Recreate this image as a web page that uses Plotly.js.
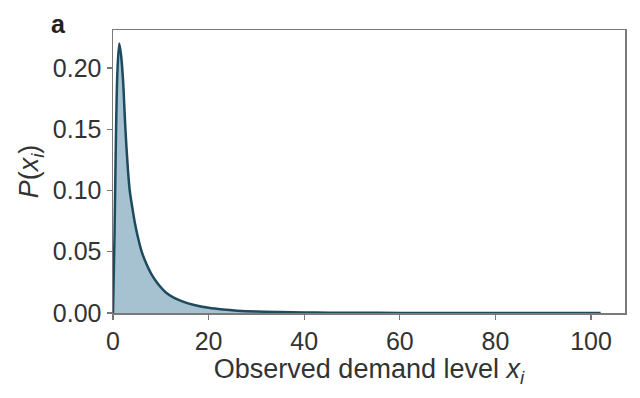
<!DOCTYPE html>
<html>
<head>
<meta charset="utf-8">
<script src="https://cdn.plot.ly/plotly-3.0.1.min.js"></script>
<style>html,body{margin:0;padding:0;background:#fff;}#chart{width:640px;height:398px;}</style>
</head>
<body>
<div id="chart"></div>
<script>
// Observed demand level (x) and probability P(x)
var demandLevel = [0, 0.3, 0.6, 0.9, 1.3, 1.7, 2.1, 2.6, 3.1, 3.5, 4.0, 4.6, 5.2, 6.0, 7.0, 8.0, 9.0, 10, 11, 12.5, 14.5, 17, 20, 23, 26, 30, 35, 40, 45, 50, 60, 70, 80, 90, 102];
var probability = [0, 0.06, 0.14, 0.195, 0.220, 0.210, 0.190, 0.150, 0.118, 0.100, 0.087, 0.073, 0.062, 0.050, 0.040, 0.032, 0.026, 0.021, 0.017, 0.013, 0.0095, 0.0065, 0.0042, 0.0028, 0.0019, 0.0012, 0.0008, 0.0005, 0.0003, 0.0002, 0.0001, 0.00005, 0.00003, 0.00002, 0.00001];
var yTicks = [0, 0.05, 0.10, 0.15, 0.20];
var xTicks = [0, 20, 40, 60, 80, 100];

var font = 'Liberation Sans, Arial, sans-serif';
var trace = {
  x: demandLevel,
  y: probability,
  type: 'scatter',
  mode: 'lines',
  fill: 'tozeroy',
  fillcolor: 'rgba(150,182,199,0.85)',
  line: {color: '#1d4a5e', width: 2.5, shape: 'spline', smoothing: 0.8},
  hoverinfo: 'skip'
};
var layout = {
  width: 640, height: 398,
  margin: {l: 113, r: 15, t: 30, b: 85},
  paper_bgcolor: '#fff', plot_bgcolor: '#fff',
  showlegend: false,
  font: {family: font, color: '#333', size: 25},
  xaxis: {
    range: [0, 107.1], tickvals: xTicks, ticktext: xTicks.map(String),
    ticks: 'outside', ticklen: 5, tickwidth: 1.2, tickcolor: '#777',
    showline: true, mirror: true, linecolor: '#7a7a7a', linewidth: 1.5,
    showgrid: false, zeroline: false,
    tickfont: {family: font, size: 25, color: '#333'},
    title: {text: 'Observed demand level <i>x</i><sub><i>i</i></sub>', font: {family: font, size: 27, color: '#333'}, standoff: 2}
  },
  yaxis: {
    range: [0, 0.231], tickvals: yTicks, ticktext: yTicks.map(function(v){return v.toFixed(2);}),
    ticks: 'outside', ticklen: 5, tickwidth: 1.2, tickcolor: '#777',
    showline: true, mirror: true, linecolor: '#7a7a7a', linewidth: 1.5,
    showgrid: false, zeroline: false,
    tickfont: {family: font, size: 25, color: '#333'},
    title: {text: '<i>P</i>(<i>x</i><sub><i>i</i></sub>)', font: {family: font, size: 27, color: '#333'}, standoff: 6}
  },
  annotations: [{
    text: '<b>a</b>', xref: 'paper', yref: 'paper', x: -0.125, y: 1.02,
    xanchor: 'left', yanchor: 'middle', showarrow: false,
    font: {family: font, size: 25, color: '#222'}
  }]
};
Plotly.newPlot('chart', [trace], layout, {staticPlot: true, displayModeBar: false});
</script>
</body>
</html>
